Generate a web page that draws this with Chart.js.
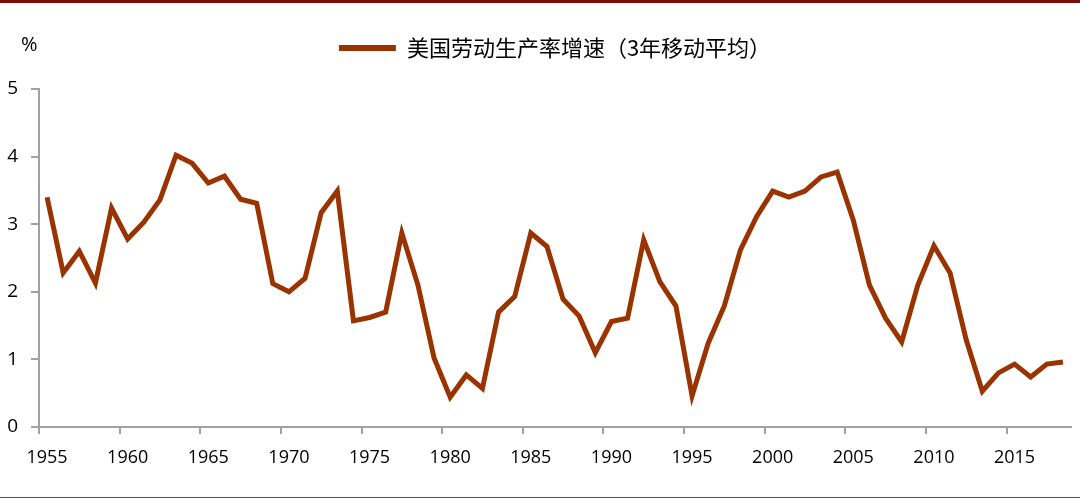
<!DOCTYPE html>
<html lang="zh">
<head>
  <meta charset="UTF-8">
  <title>美国劳动生产率增速</title>
  <script src="https://cdn.jsdelivr.net/npm/chart.js"></script>
  <style>
    body { margin: 0; background: #fff; }
    .wrap { position: relative; width: 1080px; height: 499px; }
    .top-line { position: absolute; left: 0; top: 0; width: 1080px; height: 3px; background: #7d0b0b; }
    .bottom-line { position: absolute; left: 0; top: 497px; width: 1080px; height: 1px; background: #a52a2a; }
  </style>
</head>
<body>
  <div class="wrap">
    <canvas id="chart"></canvas>
    <div class="top-line"></div>
    <div class="bottom-line"></div>
  </div>
  <script>
    // 年份 1955-2018
    const years = [];
    for (let y = 1955; y <= 2018; y++) years.push(String(y));

    // 美国劳动生产率增速（3年移动平均），%
    const growth = [
      3.40, 2.28, 2.60, 2.13, 3.24, 2.78, 3.03, 3.36, 4.02, 3.90,
      3.61, 3.71, 3.37, 3.31, 2.12, 2.00, 2.20, 3.17, 3.49, 1.57,
      1.62, 1.70, 2.87, 2.10, 1.02, 0.44, 0.77, 0.57, 1.70, 1.93,
      2.87, 2.67, 1.89, 1.64, 1.10, 1.56, 1.61, 2.77, 2.15, 1.79,
      0.46, 1.24, 1.79, 2.62, 3.11, 3.49, 3.40, 3.49, 3.70, 3.77,
      3.06, 2.10, 1.61, 1.26, 2.10, 2.68, 2.28, 1.29, 0.53, 0.80,
      0.93, 0.74, 0.93, 0.96
    ];

    const seriesName = '美国劳动生产率增速（3年移动平均）';
    const lineColor = '#993300';
    const axisColor = '#a0a0a0';

    // "%" 单位标注
    const unitLabel = {
      id: 'unitLabel',
      afterDraw(chart) {
        const ctx = chart.ctx;
        ctx.save();
        ctx.font = '20px "Open Sans", sans-serif';
        ctx.fillStyle = '#000';
        ctx.textBaseline = 'middle';
        ctx.fillText('%', 21, 45);
        ctx.restore();
      }
    };

    // 图例区域固定高度，让绘图区从 y=89 开始
    const legendHeight = {
      id: 'legendHeight',
      afterInit(chart) {
        const fit = chart.legend.fit;
        chart.legend.fit = function () {
          fit.call(this);
          this.height = 72;
        };
      }
    };

    new Chart(document.getElementById('chart'), {
      type: 'line',
      data: {
        labels: years,
        datasets: [{
          label: seriesName,
          data: growth,
          borderColor: lineColor,
          backgroundColor: lineColor,
          borderWidth: 5,
          pointRadius: 0,
          tension: 0
        }]
      },
      options: {
        responsive: true,
        maintainAspectRatio: false,
        animation: false,
        layout: { padding: { top: 17, right: 9, left: 0, bottom: 0 } },
        plugins: {
          tooltip: { enabled: false },
          legend: {
            position: 'top',
            fullSize: false,
            labels: {
              boxWidth: 57,
              boxHeight: 6,
              padding: 20,
              color: '#000',
              font: { family: '"Noto Sans CJK SC", sans-serif', size: 22 },
              generateLabels: chart => Chart.defaults.plugins.legend.labels
                .generateLabels(chart).map(l => ({ ...l, lineWidth: 0 }))
            }
          }
        },
        scales: {
          x: {
            offset: true,
            afterFit: s => { s.height = 72; },
            grid: {
              offset: true,
              drawOnChartArea: false,
              tickLength: 7,
              lineWidth: 2,
              color: c => (c.index % 5 === 0 && c.index < years.length) ? axisColor : 'rgba(0,0,0,0)'
            },
            border: { color: axisColor, width: 2 },
            ticks: {
              autoSkip: false,
              maxRotation: 0,
              padding: 13,
              color: '#000',
              font: { family: '"Open Sans", sans-serif', size: 18 },
              callback: (v, i) => (i % 5 === 0 ? years[i] : '')
            }
          },
          y: {
            min: 0,
            max: 5,
            afterFit: s => { s.width = 39; },
            grid: {
              drawOnChartArea: false,
              tickLength: 8,
              lineWidth: 2,
              color: axisColor
            },
            border: { color: axisColor, width: 2 },
            ticks: {
              stepSize: 1,
              padding: 13,
              color: '#000',
              font: { family: '"Open Sans", sans-serif', size: 19 }
            }
          }
        }
      },
      plugins: [unitLabel, legendHeight]
    });
  </script>
</body>
</html>
